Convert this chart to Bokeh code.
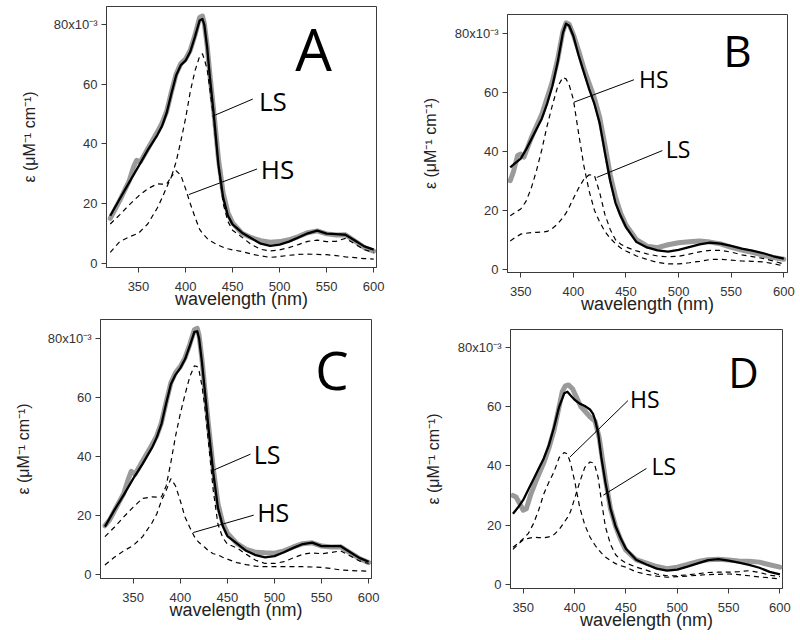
from bokeh.plotting import figure
from bokeh.layouts import column, row
from bokeh.models import FixedTicker, Range1d, Spacer
from bokeh.core.properties import value
from bokeh.embed import file_html
from bokeh.resources import INLINE

# ---------------- data (epsilon in 10^-3 uM^-1 cm^-1) ----------------
x_ticks = [350, 400, 450, 500, 550, 600]
y_ticks = [0, 20, 40, 60, 80]
y_tick_labels = {0: "0", 20: "20", 40: "40", 60: "60", 80: "80x10\u207b\u00b3"}

# Panel A
wl_A = [320, 330, 340, 350, 360, 370, 375, 380, 385, 390, 395, 400, 405, 410, 415, 418, 420, 423, 426, 430,
        435, 440, 445, 450, 460, 470, 480, 490, 500, 510, 520, 530, 540, 550, 560, 570, 580, 590, 600]
fit_A = [15.9, 21.5, 27, 32.5, 38, 43, 46, 50.5, 57, 63, 66.5, 68, 71, 76, 81.5, 82, 80, 72.5, 62, 50,
         33, 22, 16, 13, 10.2, 8.3, 6.5, 5.8, 6.2, 7.2, 8.6, 10, 10.9, 9.9, 9.7, 9.5, 7.6, 5.6, 4.5]
ls_A = [13.1, 16.2, 19.5, 22.5, 25, 26.6, 26.5, 26.6, 29, 34, 41, 48.5, 57.5, 64.5, 69.5, 70.3, 68.5, 65, 58, 48,
        33, 20, 14, 11, 8.7, 6.2, 4.6, 4.1, 4.4, 5.2, 6.2, 7.3, 7.7, 7.2, 7.3, 8.3, 6.4, 4.5, 3.6]
hs_A = [3.6, 7.2, 8.8, 10, 13.2, 18.5, 21.8, 25.5, 29, 31, 29.5, 25, 20, 15.5, 11.3, 10, 9.3, 8.3, 7.5, 6.8,
        6, 5.3, 4.8, 4.4, 3.9, 3, 2.4, 1.9, 2.2, 2.6, 2.9, 3, 2.9, 2.8, 2.5, 2.1, 1.8, 1.5, 1.3]
wl_exp_A = [320, 325, 330, 340, 345, 348, 352, 360, 370, 375, 380, 385, 390, 395, 400, 405, 410, 415, 418, 420, 423,
            426, 430, 435, 440, 445, 450, 460, 470, 480, 490, 500, 510, 520, 530, 540, 550, 560, 570, 580, 590, 600]
exp_A = [15, 18, 21, 27.5, 32.5, 34.5, 34, 38.5, 44, 47, 51, 57.5, 63.5, 67, 68.5, 71.5, 76.5, 82.5, 83, 80.5, 73,
         63, 51, 35, 23.5, 17, 13.5, 10, 8.5, 7.5, 7, 7.2, 7.8, 8.9, 10.2, 10.8, 9.8, 9.4, 9.5, 7.4, 5.2, 4]

# Panel B
wl_B = [340, 345, 350, 355, 360, 365, 370, 375, 380, 385, 390, 393, 396, 400, 405, 410, 415, 420, 425, 430,
        435, 440, 445, 450, 460, 470, 480, 490, 500, 510, 520, 530, 540, 550, 560, 570, 580, 590, 600]
fit_B = [34.5, 36, 37.5, 40.5, 44, 47.5, 51, 56, 62, 70, 80, 83.2, 82.5, 79, 72.5, 66.7, 61, 56, 49.5, 39.5,
         30, 22.5, 18, 14.3, 9.2, 7.4, 6.4, 6, 6.6, 7.5, 8.4, 9, 8.7, 7.9, 7, 6.3, 5.5, 4.4, 3.6]
hs_B = [18.1, 19.3, 20.4, 23, 27.5, 33.5, 40.5, 48.5, 55.5, 61.8, 65, 64.5, 62.5, 57.5, 46, 35, 26.5, 20, 16, 12.8,
        10.5, 8.7, 7.2, 6.2, 4.5, 3.3, 2.3, 1.8, 1.8, 2.2, 2.7, 3.3, 3.4, 3.1, 2.8, 2.7, 2.5, 1.9, 1.1]
ls_B = [9.6, 10.8, 11.9, 12.2, 12.4, 12.5, 12.6, 12.8, 13.8, 15.3, 17.5, 19, 21, 24, 27.5, 30.5, 32, 31.8, 26, 18.5,
        13.5, 10, 8.5, 7.5, 6.2, 5.2, 4.5, 4.2, 4.4, 5.1, 5.9, 6.4, 6.4, 5.8, 4.9, 4.3, 3.7, 2.8, 1.8]
wl_exp_B = [340, 343, 347, 350, 353, 360, 370, 380, 385, 390, 393, 396, 400, 405, 410, 415, 420, 425, 430, 435,
            440, 445, 450, 460, 470, 480, 490, 500, 510, 520, 530, 540, 550, 560, 570, 580, 590, 600]
exp_B = [30, 33, 38.5, 39, 38, 44.5, 52.5, 63.5, 71, 80.5, 83.5, 83, 79.5, 74, 68, 63, 58, 51.5, 42, 32,
         24.5, 19, 15, 10, 7.8, 7.3, 8.3, 9, 9.3, 9.6, 9.2, 8.6, 7.4, 6.5, 5.7, 4.8, 4, 3.4]

# Panel C
wl_C = wl_A
fit_C = [16.2, 21.8, 27, 32.5, 37.5, 43, 46.5, 51, 58, 64.5, 67.8, 70, 73, 77.5, 82.3, 82.5, 80, 72, 62.5, 49.5,
         34.5, 22.5, 16.5, 13, 10.5, 8, 6.5, 5.8, 6.2, 7.5, 9, 10.3, 10.8, 9.6, 9.6, 9.6, 7.6, 5.6, 4.3]
ls_C = [12.8, 16, 19.5, 22.8, 25.8, 26.3, 26.2, 26.3, 30, 38, 47, 54.5, 61, 67, 70.8, 70.5, 69, 64, 57, 44.5,
        28.5, 17, 12.5, 10.3, 9, 6.8, 4.8, 3.7, 3.7, 4.3, 5.6, 6.8, 7.3, 7, 7.4, 8, 6.3, 4.6, 3.7]
hs_C = [3.2, 5.8, 8, 9.8, 12.8, 17.5, 20.5, 25, 28.5, 32.5, 30, 25, 19.5, 16, 12.8, 11.5, 10.8, 9.9, 9.2, 8,
        7, 6.6, 5.8, 5.2, 4, 3.3, 2.8, 2.6, 2.6, 2.6, 2.6, 2.6, 2.5, 2.4, 2, 1.5, 1.3, 1.2, 1.1]
wl_exp_C = wl_exp_A
exp_C = [16.5, 18.5, 21.5, 27.5, 32.5, 35, 34, 38.5, 44, 47, 51.5, 58.5, 65, 68.5, 70.5, 73.5, 78, 83, 83.5, 81, 73,
         63, 50.5, 36, 24, 17.5, 14, 10.5, 8.5, 7.5, 7.3, 7.2, 8, 9.3, 10.4, 10.7, 9.6, 9.3, 9.4, 7.4, 5.4, 4]

# Panel D
wl_D = [340, 345, 350, 355, 360, 365, 370, 375, 380, 385, 390, 393, 396, 400, 405, 410, 415, 418, 420, 423, 426,
        430, 435, 440, 445, 450, 460, 470, 480, 490, 500, 510, 520, 530, 540, 550, 560, 570, 580, 590, 600]
fit_D = [23.8, 26, 28.5, 32, 35.5, 39, 42.5, 47, 53, 60, 64.5, 65, 63.8, 62.3, 61, 60.2, 59, 57.5, 55.5, 51, 43,
         34.5, 25.5, 19.5, 15.5, 12, 8.3, 6.7, 5.3, 4.6, 5, 6, 7.1, 8.2, 8.5, 8, 7.3, 6.6, 5.6, 4.2, 3.4]
hs_D = [12.5, 13.8, 15.4, 17.2, 20.5, 25, 30.5, 34.5, 38, 42.8, 44.5, 44, 41, 35, 26, 20, 16, 14.2, 13.2, 11.8, 10.6,
        9.2, 8, 7, 6.3, 5.8, 4.2, 3.4, 2.8, 2.4, 2.6, 2.8, 3.1, 3.3, 3.4, 3.5, 3.3, 2.9, 2.5, 2.2, 1.8]
ls_D = [11.8, 13.5, 15, 15.5, 15.9, 15.8, 15.7, 16, 16.8, 18.5, 21, 22.5, 24.5, 28.9, 34.5, 39.5, 41.3, 41, 39.8, 36,
        28.5, 19.5, 13.5, 10, 8.3, 7.2, 5.8, 4.8, 3.5, 2.9, 2.9, 3.2, 3.6, 4, 4.1, 4.1, 4.3, 4.6, 4, 3.1, 2.6]
wl_exp_D = [340, 343, 347, 350, 353, 357, 362, 370, 375, 380, 385, 388, 391, 394, 398, 402, 406, 410, 415, 420,
            424, 427, 430, 435, 440, 445, 450, 460, 470, 480, 490, 500, 510, 520, 530, 540, 550, 560, 570, 580, 590, 600]
exp_D = [30, 29.5, 27, 25, 25.5, 30, 34.5, 41, 46, 52, 60, 65, 67, 67.3, 66, 63, 60, 58.5, 56.5, 55,
         49.5, 42.5, 35.5, 25.5, 19.5, 15, 11.5, 8.3, 7.2, 6, 5.3, 5.8, 6.7, 7.7, 8.3, 8.5, 8.2, 7.9, 7.8, 7.5, 6.6, 5.8]

# annotation texts
panel_letters = ["A", "B", "C", "D"]
x_label = "wavelength (nm)"
y_label = "\u03b5 (\u03bcM\u207b\u00b9 cm\u207b\u00b9)"

FONT = "Open Sans"
AX_FONT = "Liberation Sans"


def make_panel(xr, yr, FW, FH, mbl, mbr, mbt, mbb, wl, fit, comp1, comp2, wl_exp, exp,
               letter, letter_xy, letter_size, labels, label_size):
    p = figure(frame_width=FW, frame_height=FH, output_backend="svg", toolbar_location=None,
               x_range=Range1d(*xr), y_range=Range1d(*yr),
               min_border_left=mbl, min_border_right=mbr, min_border_top=mbt, min_border_bottom=mbb)
    p.outline_line_color = "#3a3a3a"
    p.outline_line_width = 1
    p.outline_line_alpha = 1
    p.grid.visible = False
    p.background_fill_color = "white"
    p.border_fill_color = "white"

    for ax in (p.xaxis[0], p.yaxis[0]):
        ax.axis_line_color = "#3a3a3a"
        ax.major_tick_line_color = "#3a3a3a"
        ax.major_tick_in = 0
        ax.major_tick_out = 5
        ax.minor_tick_line_color = None
        ax.major_label_text_font = AX_FONT
        ax.major_label_text_font_size = "13px"
        ax.major_label_text_color = "#333333"
        ax.axis_label_text_font = AX_FONT
        ax.axis_label_text_font_style = "normal"
        ax.axis_label_text_color = "#222222"
    p.xaxis.ticker = FixedTicker(ticks=x_ticks)
    p.yaxis.ticker = FixedTicker(ticks=y_ticks)
    p.yaxis.major_label_overrides = y_tick_labels
    p.xaxis.axis_label = x_label
    p.yaxis.axis_label = y_label
    p.xaxis.axis_label_text_font_size = "18px"
    p.yaxis.axis_label_text_font_size = "16px"
    p.xaxis.major_label_standoff = 9
    p.xaxis.axis_label_standoff = -5
    p.yaxis.major_label_standoff = 4
    p.yaxis.axis_label_standoff = 13

    # experimental (thick gray)
    p.line(wl_exp, exp, line_color="#9a9a9a", line_width=5, line_join="round", line_cap="round")
    # components (dashed)
    p.line(wl, comp1, line_color="black", line_width=1.2, line_dash="5 4")
    p.line(wl, comp2, line_color="black", line_width=1.2, line_dash="5 4")
    # fit (solid black)
    p.line(wl, fit, line_color="black", line_width=2.3, line_join="round")

    # panel letter
    p.text(x=[letter_xy[0]], y=[letter_xy[1]], text=[letter], text_font=value(FONT),
           text_font_size=value(letter_size), text_align="center", text_baseline="middle",
           text_color="black")
    # LS / HS labels with leader lines
    for (txt, tx, ty, x0, y0, x1, y1) in labels:
        p.segment(x0=[x0], y0=[y0], x1=[x1], y1=[y1], line_color="black", line_width=1)
        p.text(x=[tx], y=[ty], text=[txt], text_font=value(FONT), text_font_size=value(label_size),
               text_align="left", text_baseline="middle", text_color="black")
    return p


pA = make_panel((316, 603), (-1.5, 86.2), 270, 261, 106, 24, 6, 51,
                wl_A, fit_A, ls_A, hs_A, wl_exp_A, exp_A,
                panel_letters[0], (536, 72), "58px",
                [("LS", 478, 54.6, 430, 49.5, 471.5, 55.1),
                 ("HS", 480, 31.5, 403.5, 23, 476, 31.6)], "26px")
pB = make_panel((337.4, 603.5), (-1.1, 86.3), 280, 258, 107, 10, 6, 46,
                wl_B, fit_B, hs_B, ls_B, wl_exp_B, exp_B,
                panel_letters[1], (556, 74.3), "44px",
                [("HS", 462.4, 64.3, 400.6, 56.6, 457.6, 64.2),
                 ("LS", 487.7, 40.6, 422.2, 31.1, 484.6, 40.2)], "23px")
pC = make_panel((315.3, 603), (-1.4, 86.5), 271, 259, 100, 29, 1, 50,
                wl_C, fit_C, ls_C, hs_C, wl_exp_C, exp_C,
                panel_letters[2], (561, 69.6), "53px",
                [("LS", 478, 40.8, 435.5, 35.4, 474.5, 40.8),
                 ("HS", 481.6, 21.3, 413.7, 14.2, 478, 20.1)], "25px")
pD = make_panel((337.6, 602.5), (-1.4, 86), 272, 259, 110, 10, 1, 47,
                wl_D, fit_D, hs_D, ls_D, wl_exp_D, exp_D,
                panel_letters[3], (564.6, 71.7), "42px",
                [("HS", 453.9, 62.7, 395.6, 43, 452, 62),
                 ("LS", 475, 40.1, 428, 30.1, 470, 39.1)], "23px")

top_row = row(column(pA), column(Spacer(width=10, height=8), pB))
bottom_row = row(column(pC), column(Spacer(width=10, height=10), pD))
layout = column(top_row, bottom_row)
open("out.html", "w").write(file_html(layout, INLINE))
